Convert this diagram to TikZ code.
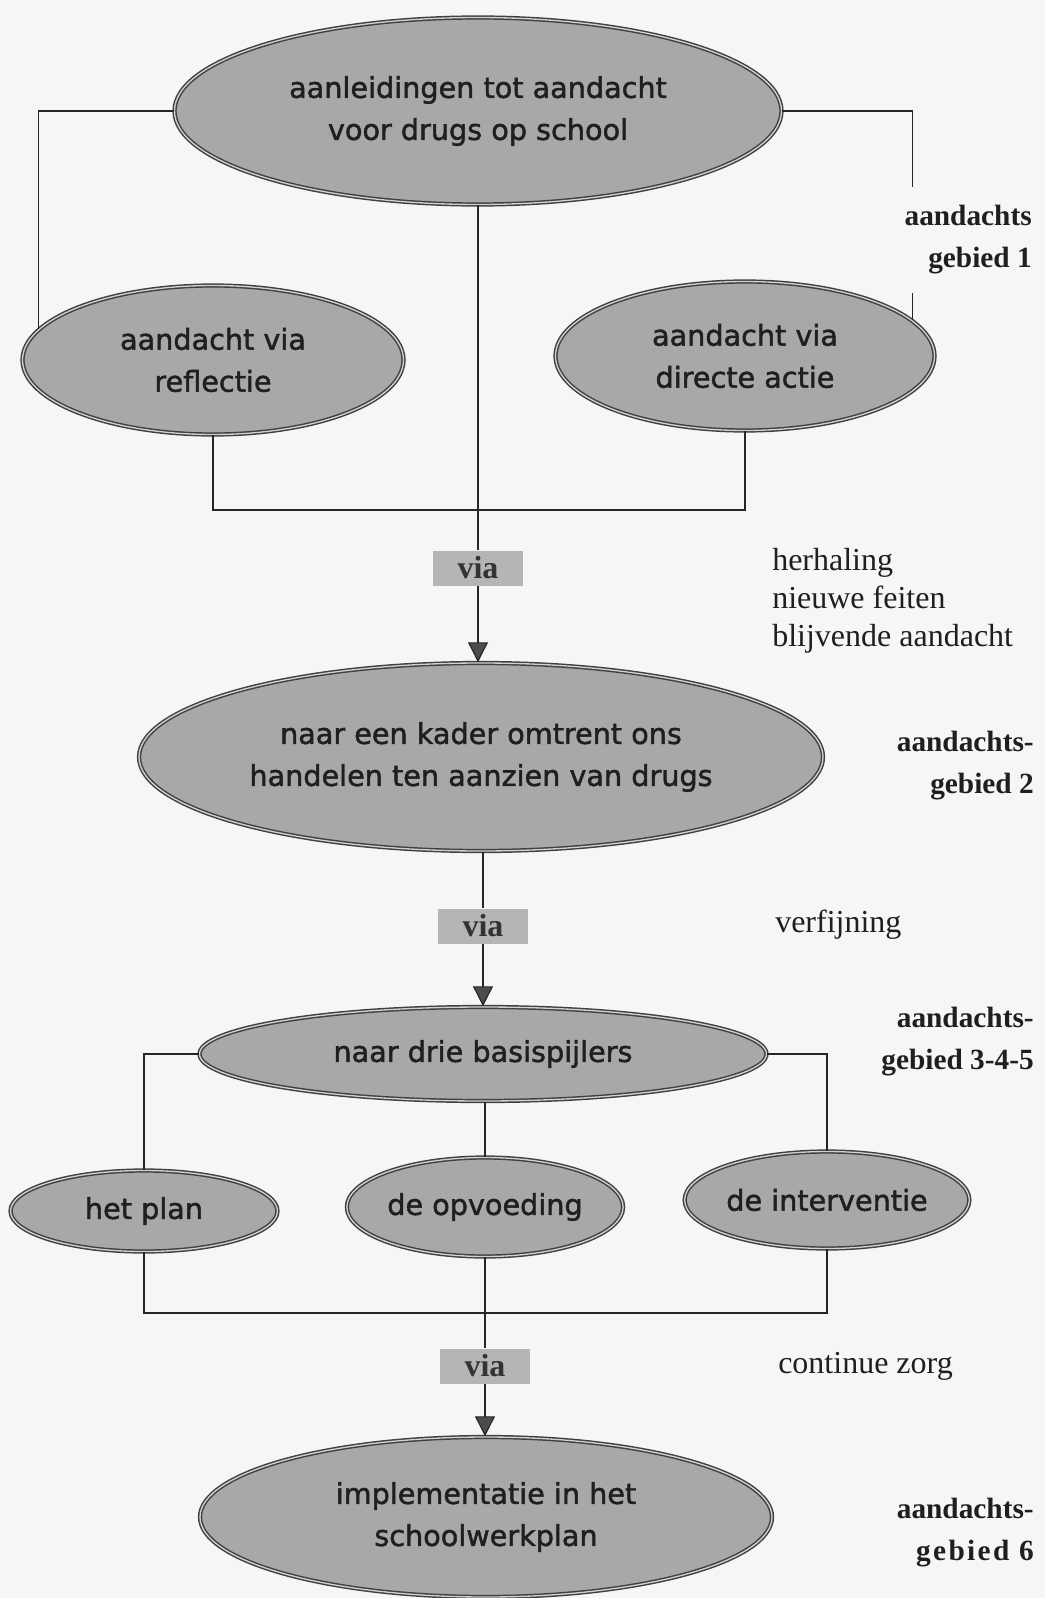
\documentclass[tikz,border=0pt]{standalone}
\usepackage{fontspec}
\setmainfont{Liberation Serif}
\newfontfamily\ellfont[FakeBold=1.6]{DejaVu Sans}
\usetikzlibrary{shapes.geometric,arrows.meta}
\definecolor{bgc}{gray}{0.965}
\tikzset{
  ell/.style={ellipse, draw=black!75, line width=1.1pt, double=black!18, double distance=1pt,
    fill=black!34, inner sep=0pt, align=center, text=black!88,
    font=\ellfont\fontsize{21.5pt}{31.5pt}\selectfont},
  viabox/.style={rectangle, fill=black!29, minimum width=67.5pt, minimum height=26.25pt,
    inner sep=0pt, font=\bfseries\fontsize{24pt}{28pt}\selectfont, text=black!80},
  conn/.style={draw=black!85, line width=0.9pt},
  arr/.style={conn, -{Triangle[width=15pt,length=15pt, fill=black!70]}},
  note/.style={anchor=west, inner sep=0pt, align=left, text=black!88,
    font=\fontsize{24pt}{28.5pt}\selectfont},
  area/.style={anchor=east, align=right, text=black!88, fill=bgc, inner xsep=3pt, inner ysep=14pt,
    font=\bfseries\fontsize{22pt}{31.5pt}\selectfont},
}
\begin{document}
\begin{tikzpicture}[x=0.75pt, y=-0.75pt]
\path[fill=bgc, use as bounding box] (0,0) rectangle (1045,1598);

% ellipses
\node[ell, minimum width=455.25pt, minimum height=140.25pt] (top) at (478,111)
  {aanleidingen tot aandacht\\voor drugs op school};
\node[ell, minimum width=285.75pt, minimum height=111.75pt] (refl) at (213,360)
  {aandacht via\\reflectie};
\node[ell, minimum width=284.25pt, minimum height=111.75pt] (dir) at (745,356)
  {aandacht via\\directe actie};
\node[viabox] (via1) at (478,568) {via};
\node[ell, minimum width=513pt, minimum height=141pt] (kader) at (481,757)
  {naar een kader omtrent ons\\handelen ten aanzien van drugs};
\node[viabox] (via2) at (483,926) {via};
\node[ell, minimum width=425.25pt, minimum height=70.5pt] (drie) at (483,1054)
  {naar drie basispijlers};
\node[ell, minimum width=200.25pt, minimum height=60.75pt] (plan) at (144,1211) {het plan};
\node[ell, minimum width=200.25pt, minimum height=74.25pt] (opv) at (485,1207) {de opvoeding};
\node[ell, minimum width=201pt, minimum height=72.75pt] (inter) at (827,1200) {de interventie};
\node[viabox] (via3) at (485,1366) {via};
\node[ell, minimum width=429pt, minimum height=120pt] (impl) at (486,1517)
  {implementatie in het\\schoolwerkplan};

% connectors
\coordinate (j1) at (0,510);
\coordinate (j2) at (0,1313);
\draw[conn] (top.west) -| (refl.170);
\draw[conn] (top.east) -| (dir.12);
\draw[conn] (refl.south) |- (dir.south |- j1) -- (dir.south);
\draw[conn] (top.south) -- (via1.north);
\draw[arr] (via1.south) -- (via1.south |- kader.north);
\draw[conn] (via2.north |- kader.south) -- (via2.north);
\draw[arr] (via2.south) -- (via2.south |- drie.north);
\draw[conn] (drie.west) -| (plan.north);
\draw[conn] (drie.east) -| (inter.north);
\draw[conn] (opv.north |- drie.south) -- (opv.north);
\draw[conn] (plan.south) |- (inter.south |- j2) -- (inter.south);
\draw[conn] (opv.south) -- (via3.north);
\draw[arr] (via3.south) -- (via3.south |- impl.north);

% side notes
\node[note] (n1) at (772,601) {herhaling\\nieuwe feiten\\blijvende aandacht};
\node[note] (n2) at (775,925) {verfijning};
\node[note] (n3) at (778,1366) {continue zorg};

% area labels
\node[area] (a1) at (1036,240) {aandachts\\gebied 1};
\node[area] (a2) at (1038,766) {aandachts-\\gebied 2};
\node[area] (a3) at (1038,1042) {aandachts-\\gebied 3-4-5};
\node[area] (a6) at (1038,1533) {aandachts-\\\addfontfeature{LetterSpace=8}gebied 6};
\end{tikzpicture}
\end{document}
